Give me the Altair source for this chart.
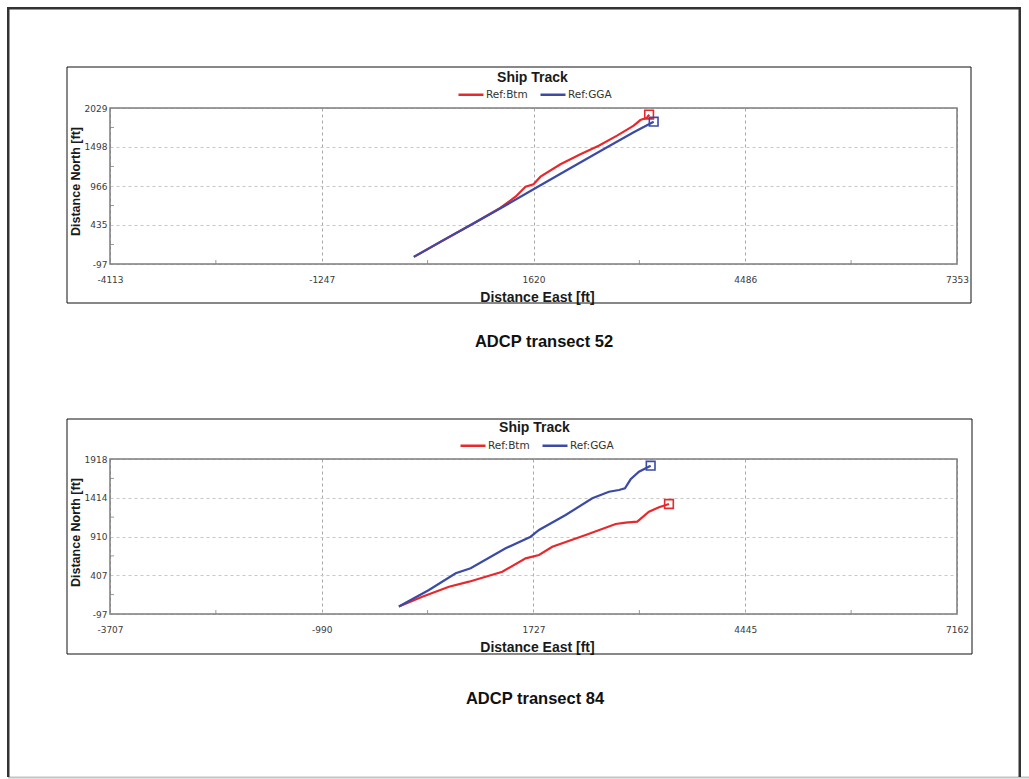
import altair as alt
import pandas as pd

# ---------------- data ----------------
SERIES = ["Ref:Btm", "Ref:GGA"]
COLORS = ["#e8282b", "#3b4aa5"]

PANEL_TITLE = "Ship Track"
X_TITLE = "Distance East [ft]"
Y_TITLE = "Distance North [ft]"
CAPTION_52 = "ADCP transect 52"
CAPTION_84 = "ADCP transect 84"

# transect 52
x_ticks_52 = [-4113, -1247, 1620, 4486, 7353]
y_ticks_52 = [-97, 435, 966, 1498, 2029]
btm52_e = [0, 400, 800, 1174, 1377, 1512, 1620, 1715, 1985, 2255, 2503, 2751, 2976, 3067, 3157, 3185]
btm52_n = [0, 226, 452, 670, 820, 956, 989, 1093, 1262, 1398, 1515, 1652, 1788, 1865, 1897, 1940]
gga52_e = [0, 400, 800, 1174, 1620, 2075, 2526, 2976, 3247]
gga52_n = [0, 228, 452, 662, 921, 1184, 1443, 1698, 1842]

# transect 84
x_ticks_84 = [-3707, -990, 1727, 4445, 7162]
y_ticks_84 = [-97, 407, 910, 1414, 1918]
btm84_e = [0, 300, 643, 900, 1327, 1627, 1798, 1969, 2397, 2782, 2910, 3059, 3209, 3338, 3466]
btm84_n = [0, 128, 258, 323, 453, 627, 670, 778, 930, 1073, 1090, 1103, 1233, 1290, 1333]
gga84_e = [0, 386, 729, 921, 1370, 1691, 1798, 2140, 2482, 2696, 2824, 2901, 2974, 3081, 3231]
gga84_n = [0, 215, 432, 497, 757, 908, 995, 1190, 1407, 1493, 1515, 1537, 1654, 1753, 1831]

# ---------------- styling / layout ----------------
BOLDF = "Liberation Sans"
TICKF = "DejaVu Sans"
CAPF = "Liberation Sans"
LABEL_EXPR = "(datum.value < 0 ? '-' : '') + format(abs(datum.value), 'd')"

W = 847
H_TOP, H_BOT = 156, 155
X0 = 110
Y0_TOP, Y0_BOT = 108, 459


def one():
    return alt.Data(values=[{"k": 0}])


def track_table(be, bn, ge, gn):
    rows = []
    for name, es, ns in ((SERIES[0], be, bn), (SERIES[1], ge, gn)):
        for i, (e, n) in enumerate(zip(es, ns)):
            rows.append({"ref": name, "i": i, "e": e, "n": n})
    return pd.DataFrame(rows)


def deco_rect(x1, y1, x2, y2, oy, **kw):
    return alt.Chart(one()).mark_rect(**kw).encode(
        x=alt.value(x1 - X0), x2=alt.value(x2 - X0),
        y=alt.value(y1 - oy), y2=alt.value(y2 - oy))


def deco_text(text, cx, cy, oy, **kw):
    return alt.Chart(one()).mark_text(**kw).encode(
        x=alt.value(cx - X0), y=alt.value(cy - oy), text=alt.value(text))


def panel(be, bn, ge, gn, xt, yt, h, oy, box, title_c, legend_xy, caption, cap_c, y_title_cy, extra=()):
    df = track_table(be, bn, ge, gn)
    ends = pd.DataFrame({"ref": SERIES, "e": [be[-1], ge[-1]], "n": [bn[-1], gn[-1]]})
    xminor = pd.DataFrame({"e": [(a + b) / 2 for a, b in zip(xt[:-1], xt[1:])]})
    yminor = pd.DataFrame({"n": [(a + b) / 2 for a, b in zip(yt[:-1], yt[1:])]})

    xs = alt.Scale(domain=[xt[0], xt[-1]], nice=False, zero=False)
    ys = alt.Scale(domain=[yt[0], yt[-1]], nice=False, zero=False)

    xaxis = alt.Axis(values=xt, title=X_TITLE, grid=True, gridDash=[3, 3], gridColor="#a8a8a8",
                     ticks=False, domain=False, labelFlush=False, labelOverlap=False,
                     labelFont=TICKF, labelFontSize=9, labelColor="#3a3a3a", labelPadding=11,
                     labelExpr=LABEL_EXPR, titleFont=BOLDF, titleFontSize=14, titleFontWeight="bold",
                     titleColor="#1a1a1a", titleY=33, titleBaseline="middle", titleX=427)
    yaxis = alt.Axis(values=yt, title=Y_TITLE, grid=True, gridDash=[3, 3], gridColor="#c8c8c8",
                     ticks=False, domain=False, labelFlush=False, labelOverlap=False,
                     labelFont=TICKF, labelFontSize=9, labelColor="#3a3a3a", labelPadding=3,
                     labelExpr=LABEL_EXPR, titleFont=BOLDF, titleFontSize=12.5, titleFontWeight="bold",
                     titleColor="#1a1a1a", titleAngle=270, titleBaseline="middle", titleAlign="center",
                     titleX=-35, titleY=y_title_cy - oy)

    color = alt.Color("ref:N", scale=alt.Scale(domain=SERIES, range=COLORS),
                      legend=alt.Legend(title=None, orient="none", direction="horizontal",
                                        legendX=legend_xy[0] - X0, legendY=legend_xy[1] - oy - 12.5,
                                        symbolType="stroke", symbolSize=625, symbolStrokeWidth=2.5,
                                        labelFont=TICKF, labelFontSize=10.5, labelColor="#333333",
                                        labelOffset=1, columnPadding=7, padding=0))

    X = alt.X("e:Q", scale=xs, axis=xaxis)
    Y = alt.Y("n:Q", scale=ys, axis=yaxis)

    layers = list(extra) + [
        deco_rect(box[0], box[1], box[2], box[3], oy, fill="transparent", stroke="#111111", strokeWidth=1),
        alt.Chart(df).mark_line(strokeWidth=2.2).encode(x=X, y=Y, color=color, order="i:Q"),
        alt.Chart(xminor).mark_rule(color="#9a9a9a", strokeWidth=1).encode(
            x=X, y=alt.value(h), y2=alt.value(h - 4)),
        alt.Chart(yminor).mark_rule(color="#9a9a9a", strokeWidth=1).encode(
            y=Y, x=alt.value(0), x2=alt.value(4)),
        alt.Chart(ends).mark_point(shape="square", filled=False, size=75, strokeWidth=1.6, opacity=1).encode(
            x=X, y=Y, color=color),
        deco_rect(X0, oy, X0 + W, oy + h, oy, fill="transparent", stroke="#7c7c7c", strokeWidth=1.5),
        deco_text(PANEL_TITLE, title_c[0], title_c[1], oy, font=BOLDF, fontSize=14, fontWeight="bold",
                  align="center", baseline="middle", color="#1a1a1a"),
        deco_text(caption, cap_c[0], cap_c[1], oy, font=CAPF, fontSize=16.5, fontWeight="bold",
                  align="center", baseline="middle", color="#111111"),
    ]
    return alt.layer(*layers).properties(width=W, height=h)


background_layers = [
    # invisible rect spanning the whole page, fixes the overall extent
    deco_rect(0, 0, 1029, 779, Y0_TOP, fill="white", opacity=0),
    # faint bottom edge of the page
    deco_rect(8, 776.5, 1029, 778.5, Y0_TOP, fill="#c4c4c4"),
    # outer page frame (left, top, right)
    deco_rect(7, 7, 9.5, 777, Y0_TOP, fill="#333333"),
    deco_rect(7, 7, 1021, 9.5, Y0_TOP, fill="#333333"),
    deco_rect(1018.5, 7, 1021, 777, Y0_TOP, fill="#333333"),
]

top = panel(btm52_e, btm52_n, gga52_e, gga52_n, x_ticks_52, y_ticks_52, H_TOP, Y0_TOP,
            box=(67, 67, 971, 303), title_c=(532.5, 78), legend_xy=(457, 93),
            caption=CAPTION_52, cap_c=(544, 342), y_title_cy=181, extra=background_layers)

bottom = panel(btm84_e, btm84_n, gga84_e, gga84_n, x_ticks_84, y_ticks_84, H_BOT, Y0_BOT,
               box=(67, 419, 972, 654), title_c=(534.5, 428), legend_xy=(459, 444),
               caption=CAPTION_84, cap_c=(535, 699), y_title_cy=532)

chart = alt.vconcat(top, bottom, spacing=Y0_BOT - Y0_TOP - H_TOP, bounds="flush").resolve_scale(
    x="independent", y="independent", color="independent"
).resolve_legend(color="independent").properties(padding=0, background="white").configure_view(
    strokeWidth=0
)

chart.save("out.html", embed_options={"renderer": "svg", "actions": False})
